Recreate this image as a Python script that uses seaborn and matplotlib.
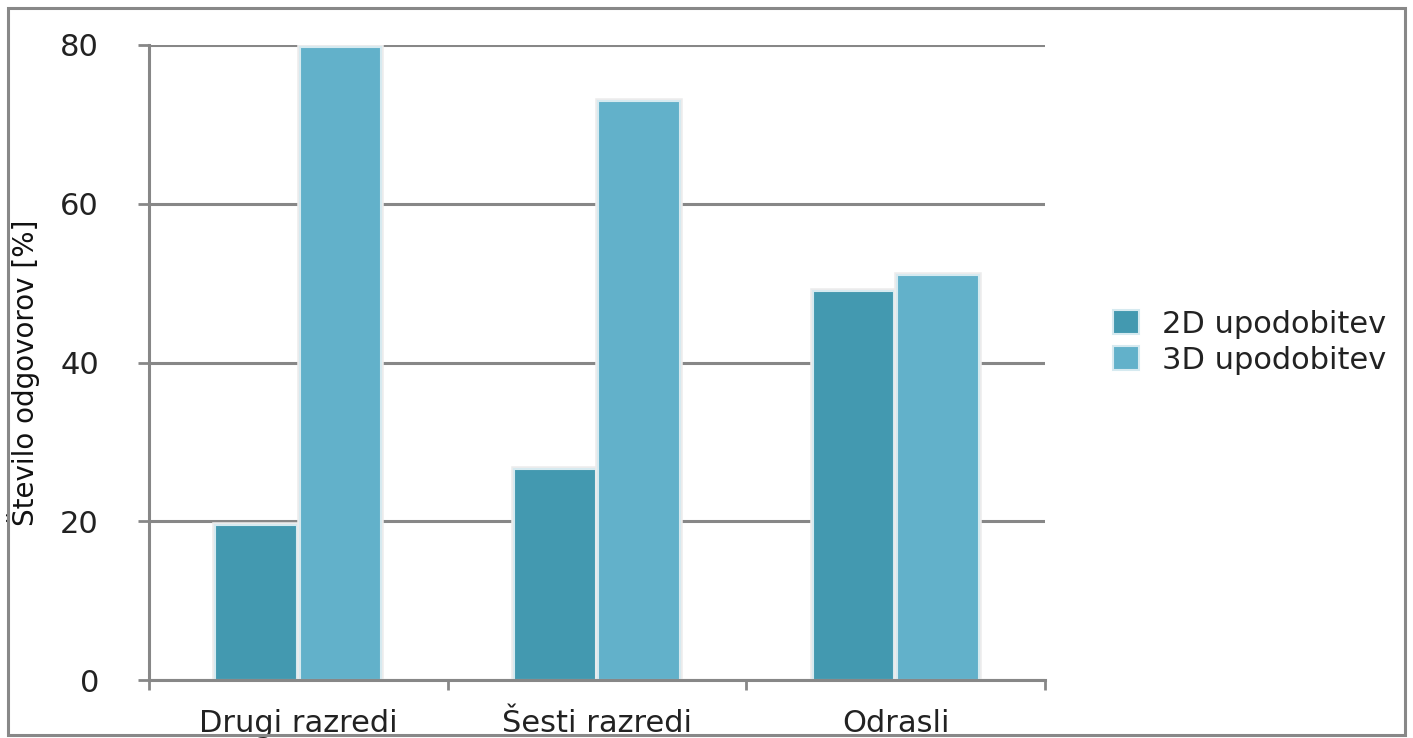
import matplotlib
matplotlib.use("Agg")
import matplotlib.pyplot as plt
import matplotlib.patheffects as pe
from matplotlib.patches import Rectangle
import seaborn as sns
import pandas as pd

# Share of answers per group and depiction type
groups = ["Drugi razredi", "Šesti razredi", "Odrasli"]
series = ["2D upodobitev", "3D upodobitev"]
values_2d = [19.5, 26.6, 49.0]
values_3d = [79.7, 73.0, 51.0]
y_ticks = [0, 20, 40, 60, 80]
y_label = "Število odgovorov [%]"

df = pd.DataFrame({
    "skupina": groups * 2,
    "upodobitev": [series[0]] * len(groups) + [series[1]] * len(groups),
    "delez": values_2d + values_3d,
})

sns.set_theme(style="white")
plt.rcParams["font.family"] = ["DejaVu Sans"]

GRID = "#878787"
TEXT = "#222222"
palette = {series[0]: "#4399b0", series[1]: "#62b1ca"}

fig = plt.figure(figsize=(14.13, 7.38), dpi=100)
ax = fig.add_axes([149 / 1413, 1 - 680 / 738, (1045 - 149) / 1413, (680 - 45) / 738])

sns.barplot(
    data=df, x="skupina", y="delez", hue="upodobitev", order=groups,
    hue_order=series, palette=palette, width=0.565, gap=0.03,
    edgecolor="#d6eaf0", linewidth=1.5, saturation=1, ax=ax, zorder=3,
)

# soft grey halo around each bar
halo = [pe.Stroke(linewidth=4, foreground="#ececec"), pe.Normal()]
for patch in ax.patches:
    patch.set_path_effects(halo)

ax.set_ylim(0, 80)
ax.set_xlim(-0.5, len(groups) - 0.5)
ax.set_yticks(y_ticks)
ax.set_yticklabels([str(t) for t in y_ticks], fontsize=22, color=TEXT)
ax.yaxis.grid(True, color=GRID, linewidth=2.2, zorder=0)
ax.set_axisbelow(True)

# category labels in the middle, tick marks between the groups
ax.set_xticks([i - 0.5 for i in range(len(groups) + 1)])
ax.set_xticklabels([])
ax.set_xticks(range(len(groups)), minor=True)
ax.set_xticklabels(groups, minor=True, fontsize=22, color=TEXT)
ax.tick_params(axis="x", which="minor", length=0, pad=21)
ax.tick_params(axis="x", which="major", length=7, width=2, color=GRID, direction="out", bottom=True)
ax.tick_params(axis="y", length=8, width=2, color=GRID, direction="out", left=True, pad=28)

for side in ["top", "right"]:
    ax.spines[side].set_visible(False)
for side in ["left", "bottom"]:
    ax.spines[side].set_color(GRID)
    ax.spines[side].set_linewidth(2.2)
    ax.spines[side].set_zorder(4)

ax.set_xlabel("")
ax.set_ylabel(y_label, fontsize=20, color="#111111")
ax.yaxis.set_label_coords(-0.122, 0.484)

leg = ax.legend(
    loc="center left", bbox_to_anchor=(1.045, 0.532), frameon=False,
    fontsize=22, handlelength=0.85, handleheight=0.85, handletextpad=0.75,
    labelspacing=0.22,
)
for h in leg.legend_handles:
    h.set_edgecolor("#d6eaf0")
    h.set_path_effects([])
for t in leg.get_texts():
    t.set_color(TEXT)

# outer frame around the whole chart
fig.patches.append(Rectangle((8 / 1413, 3 / 738), 1397 / 1413, 727 / 738,
                             transform=fig.transFigure, fill=False,
                             edgecolor="#888888", linewidth=2.2, zorder=10))

fig.savefig("out.png", dpi=100)
